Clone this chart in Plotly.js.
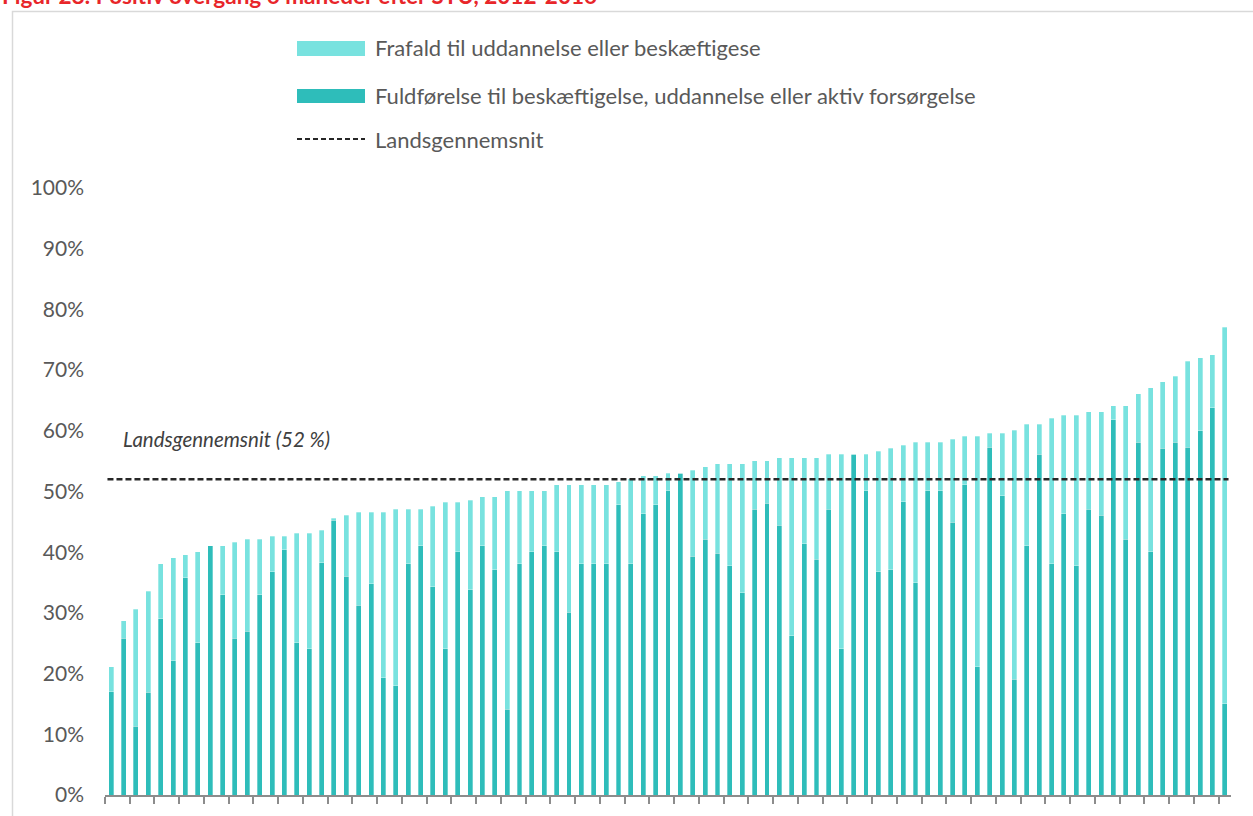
<!DOCTYPE html>
<html>
<head>
<meta charset="utf-8">
<script src="https://cdn.plot.ly/plotly-3.0.1.min.js"></script>
<style>
  html, body { margin: 0; padding: 0; background: #ffffff; }
  #chart { width: 1253px; height: 816px; }
</style>
</head>
<body>
<div id="chart"></div>
<script>
// ---- Data (percent) ----
const categories = Array.from({length: 91}, (_, i) => 'E' + (i + 1));

// Dark segment: Fuldførelse til beskæftigelse, uddannelse eller aktiv forsørgelse
const fuldfoerelse = [
  17.0, 25.8, 11.3, 16.9, 29.0, 22.1, 35.8, 25.1, 41.1, 33.0,
  25.8, 27.0, 33.0, 36.8, 40.4, 25.1, 24.1, 38.3, 45.3, 36.0,
  31.3, 34.8, 19.3, 18.0, 38.1, 41.1, 34.3, 24.1, 40.1, 33.8,
  41.1, 37.1, 14.1, 38.1, 40.1, 41.1, 40.1, 30.1, 38.1, 38.1,
  38.1, 47.8, 38.1, 46.3, 47.8, 50.1, 53.0, 39.3, 42.1, 39.8,
  37.8, 33.3, 47.1, 48.1, 44.4, 26.2, 41.4, 38.8, 47.1, 24.1,
  56.1, 50.1, 36.8, 37.1, 48.3, 35.0, 50.1, 50.1, 44.9, 51.1,
  21.1, 57.3, 49.3, 19.1, 41.1, 56.1, 38.1, 46.3, 37.8, 47.1,
  46.1, 61.8, 42.1, 58.1, 40.1, 57.1, 58.1, 57.3, 60.0, 63.8,
  15.0
];

// Light segment: Frafald til uddannelse eller beskæftigese
const frafald = [
  4.1, 2.9, 19.3, 16.7, 9.1, 17.0, 3.8, 15.0, 0.0, 8.1,
  15.8, 15.1, 9.1, 5.8, 2.2, 18.0, 19.0, 5.3, 0.3, 10.1,
  15.3, 11.8, 27.3, 29.1, 9.0, 6.0, 13.3, 24.1, 8.1, 14.8,
  8.0, 12.0, 36.0, 12.0, 10.0, 9.0, 11.0, 21.0, 13.0, 13.0,
  13.0, 3.8, 14.0, 6.3, 4.8, 2.9, 0.0, 14.2, 12.0, 14.8,
  16.8, 21.3, 8.0, 7.0, 11.2, 29.4, 14.2, 16.8, 9.0, 32.0,
  0.0, 6.0, 19.8, 20.0, 9.3, 23.1, 8.0, 8.0, 13.7, 8.0,
  38.0, 2.3, 10.3, 41.0, 20.0, 5.0, 24.0, 16.3, 24.8, 16.0,
  17.0, 2.3, 22.0, 8.0, 27.0, 11.0, 10.9, 14.2, 12.0, 8.7,
  62.1
];

const landsgennemsnit = 52;
const yTicks = [0, 10, 20, 30, 40, 50, 60, 70, 80, 90, 100];
const yTickLabels = ['0%', '10%', '20%', '30%', '40%', '50%', '60%', '70%', '80%', '90%', '100%'];

const titleText = 'Figur 28: Positiv overgang 6 måneder efter STU, 2012-2016';
const legendFrafald = 'Frafald til uddannelse eller beskæftigese';
const legendFuld = 'Fuldførelse til beskæftigelse, uddannelse eller aktiv forsørgelse';
const legendLands = 'Landsgennemsnit';
const avgLabel = 'Landsgennemsnit (52 %)';

// ---- Styling ----
const DARK = '#2EBDBA';
const LIGHT = '#78E2DF';
const FONT = 'Lato, "Open Sans", sans-serif';
const W = 1253, H = 816;
const M = {l: 105, r: 22, t: 188, b: 21};
const PW = W - M.l - M.r, PH = H - M.t - M.b;
const px = x => (x - M.l) / PW;
const py = y => (H - M.b - y) / PH;

const traces = [
  {
    type: 'bar', name: legendFuld, x: categories, y: fuldfoerelse,
    marker: {color: DARK, line: {color: 'rgba(255,255,255,0.6)', width: 0.5}},
    hoverinfo: 'y', showlegend: false
  },
  {
    type: 'bar', name: legendFrafald, x: categories, y: frafald,
    marker: {color: LIGHT, line: {color: 'rgba(255,255,255,0.6)', width: 0.5}},
    hoverinfo: 'y', showlegend: false
  }
];

const shapes = [
  // outer frame
  {type: 'rect', xref: 'paper', yref: 'paper', x0: px(12.5), x1: px(1300), y0: py(900), y1: py(11.5),
   line: {color: '#d9d9d9', width: 1.5}, fillcolor: 'rgba(0,0,0,0)', layer: 'below'},
  // national average line
  {type: 'line', xref: 'x', yref: 'y', x0: -0.3, x1: 90.3, y0: landsgennemsnit, y1: landsgennemsnit,
   line: {color: '#262626', width: 2.5, dash: '6px,3px'}},
  // legend swatches
  {type: 'rect', xref: 'paper', yref: 'paper', x0: px(297), x1: px(365), y0: py(56), y1: py(41),
   fillcolor: LIGHT, line: {width: 0}},
  {type: 'rect', xref: 'paper', yref: 'paper', x0: px(297), x1: px(365), y0: py(103), y1: py(89),
   fillcolor: DARK, line: {width: 0}},
  {type: 'line', xref: 'paper', yref: 'paper', x0: px(297), x1: px(365), y0: py(139), y1: py(139),
   line: {color: '#262626', width: 2, dash: '5px,3px'}}
];

const legendFont = {family: FONT, size: 22, color: '#595959'};
const annotations = [
  {xref: 'paper', yref: 'paper', x: px(0), y: py(11), xanchor: 'left', yanchor: 'bottom',
   text: '<b>' + titleText + '</b>', showarrow: false,
   font: {family: FONT, size: 22.5, color: '#E8262A'}},
  {xref: 'paper', yref: 'paper', x: px(373), y: py(48), xanchor: 'left', yanchor: 'middle',
   text: legendFrafald, showarrow: false, font: legendFont},
  {xref: 'paper', yref: 'paper', x: px(373), y: py(96), xanchor: 'left', yanchor: 'middle',
   text: legendFuld, showarrow: false, font: legendFont},
  {xref: 'paper', yref: 'paper', x: px(373), y: py(139), xanchor: 'left', yanchor: 'middle',
   text: legendLands, showarrow: false, font: legendFont},
  {xref: 'paper', yref: 'paper', x: px(121), y: py(439), xanchor: 'left', yanchor: 'middle',
   text: '<i>' + avgLabel + '</i>', showarrow: false,
   font: {family: FONT, size: 20.5, color: '#404040'}}
];

const layout = {
  width: W, height: H,
  margin: M,
  paper_bgcolor: '#ffffff', plot_bgcolor: '#ffffff',
  barmode: 'stack', bargap: 0.6,
  showlegend: false,
  font: {family: FONT, color: '#595959'},
  xaxis: {
    type: 'category', categoryorder: 'array', categoryarray: categories,
    showticklabels: false, showgrid: false, zeroline: false,
    showline: true, linecolor: '#8c8c8c', linewidth: 2,
    ticks: 'outside', tickson: 'boundaries', ticklen: 7, tickwidth: 2, tickcolor: '#8c8c8c'
  },
  yaxis: {
    range: [0, 100], tickvals: yTicks, ticktext: yTickLabels,
    showgrid: false, zeroline: false, showline: false, ticks: '',
    ticklabelstandoff: 20,
    tickfont: {family: FONT, size: 21, color: '#595959'}
  },
  shapes: shapes,
  annotations: annotations
};

Plotly.newPlot('chart', traces, layout, {displayModeBar: false, staticPlot: true});
</script>
</body>
</html>
